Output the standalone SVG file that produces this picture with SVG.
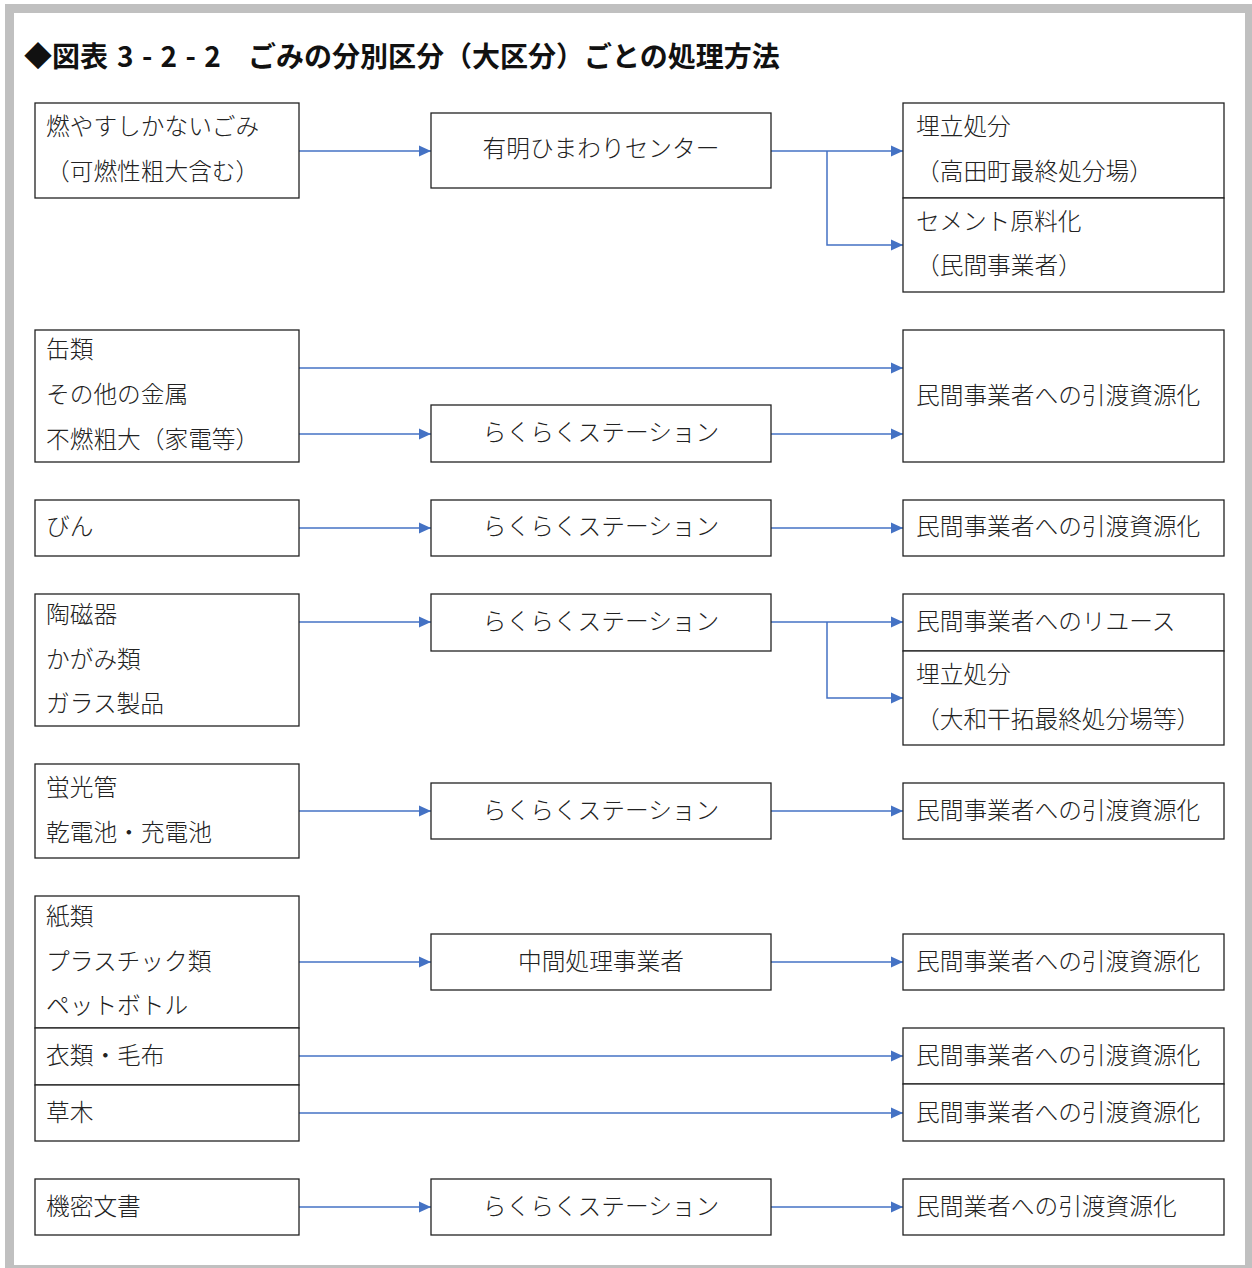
<svg xmlns="http://www.w3.org/2000/svg" width="1252" height="1268" viewBox="0 0 1252 1268">
<style>
text{font-family:"Noto Sans CJK JP","Noto Sans",sans-serif;font-size:23.7px;font-weight:300;fill:#222;}
.title{font-size:28px;font-weight:bold;fill:#111;}
.mid{text-anchor:middle;}
rect.b{fill:#fff;stroke:#222;stroke-width:1.3;}
.c path{fill:none;stroke:#4472C4;stroke-width:1.5;}
</style>
<defs>
<marker id="ah" markerUnits="userSpaceOnUse" markerWidth="13" markerHeight="12" refX="12" refY="6" orient="auto">
<path d="M0,0.5 L12,6 L0,11.5 z" fill="#4472C4"/>
</marker>
</defs>
<rect x="5" y="4" width="1247" height="1264" fill="#C0C0C0"/>
<rect x="14" y="13" width="1231" height="1252" fill="#fff"/>
<text class="title" y="67"><tspan x="24">◆図表</tspan><tspan x="117" word-spacing="2">3 - 2 - 2</tspan><tspan x="248">ごみの分別区分（大区分）ごとの処理方法</tspan></text>

<g class="c">
<path d="M299,151 H431" marker-end="url(#ah)"/>
<path d="M771,151 H903" marker-end="url(#ah)"/>
<path d="M827,151 V245 H903" marker-end="url(#ah)"/>
<path d="M299,368 H903" marker-end="url(#ah)"/>
<path d="M299,434 H431" marker-end="url(#ah)"/>
<path d="M771,434 H903" marker-end="url(#ah)"/>
<path d="M299,528 H431" marker-end="url(#ah)"/>
<path d="M771,528 H903" marker-end="url(#ah)"/>
<path d="M299,622 H431" marker-end="url(#ah)"/>
<path d="M771,622 H903" marker-end="url(#ah)"/>
<path d="M827,622 V698 H903" marker-end="url(#ah)"/>
<path d="M299,811 H431" marker-end="url(#ah)"/>
<path d="M771,811 H903" marker-end="url(#ah)"/>
<path d="M299,962 H431" marker-end="url(#ah)"/>
<path d="M771,962 H903" marker-end="url(#ah)"/>
<path d="M299,1056 H903" marker-end="url(#ah)"/>
<path d="M299,1113 H903" marker-end="url(#ah)"/>
<path d="M299,1207 H431" marker-end="url(#ah)"/>
<path d="M771,1207 H903" marker-end="url(#ah)"/>
</g>

<g id="n-moyasanai"><rect class="b" x="35" y="103" width="264" height="95"/>
<text x="46" y="135">燃やすしかないごみ</text><text x="46" y="180">（可燃性粗大含む）</text></g>
<g id="n-ariake"><rect class="b" x="431" y="113" width="340" height="75"/>
<text class="mid" x="601" y="157">有明ひまわりセンター</text></g>
<g id="n-umetate1"><rect class="b" x="903" y="103" width="321" height="95"/>
<text x="916" y="135">埋立処分</text><text x="916" y="180">（高田町最終処分場）</text></g>
<g id="n-cement"><rect class="b" x="903" y="198" width="321" height="94"/>
<text x="916" y="230">セメント原料化</text><text x="916" y="274">（民間事業者）</text></g>

<g id="n-kan"><rect class="b" x="35" y="330" width="264" height="132"/>
<text x="46" y="358">缶類</text><text x="46" y="403">その他の金属</text><text x="46" y="448">不燃粗大（家電等）</text></g>
<g id="n-raku1"><rect class="b" x="431" y="405" width="340" height="57"/>
<text class="mid" x="601" y="441">らくらくステーション</text></g>
<g id="n-r2"><rect class="b" x="903" y="330" width="321" height="132"/>
<text x="916" y="404">民間事業者への引渡資源化</text></g>

<g id="n-bin"><rect class="b" x="35" y="500" width="264" height="56"/>
<text x="46" y="535">びん</text></g>
<g id="n-raku2"><rect class="b" x="431" y="500" width="340" height="56"/>
<text class="mid" x="601" y="535">らくらくステーション</text></g>
<g id="n-r3"><rect class="b" x="903" y="500" width="321" height="56"/>
<text x="916" y="535">民間事業者への引渡資源化</text></g>

<g id="n-tojiki"><rect class="b" x="35" y="594" width="264" height="132"/>
<text x="46" y="623">陶磁器</text><text x="46" y="668">かがみ類</text><text x="46" y="712">ガラス製品</text></g>
<g id="n-raku3"><rect class="b" x="431" y="594" width="340" height="57"/>
<text class="mid" x="601" y="630">らくらくステーション</text></g>
<g id="n-reuse"><rect class="b" x="903" y="594" width="321" height="57"/>
<text x="916" y="630">民間事業者へのリユース</text></g>
<g id="n-umetate2"><rect class="b" x="903" y="651" width="321" height="94"/>
<text x="916" y="683">埋立処分</text><text x="916" y="728">（大和干拓最終処分場等）</text></g>

<g id="n-keiko"><rect class="b" x="35" y="764" width="264" height="94"/>
<text x="46" y="796">蛍光管</text><text x="46" y="841">乾電池・充電池</text></g>
<g id="n-raku4"><rect class="b" x="431" y="783" width="340" height="56"/>
<text class="mid" x="601" y="819">らくらくステーション</text></g>
<g id="n-r5"><rect class="b" x="903" y="783" width="321" height="56"/>
<text x="916" y="819">民間事業者への引渡資源化</text></g>

<g id="n-kami"><rect class="b" x="35" y="896" width="264" height="132"/>
<text x="46" y="925">紙類</text><text x="46" y="970">プラスチック類</text><text x="46" y="1014">ペットボトル</text></g>
<g id="n-irui"><rect class="b" x="35" y="1028" width="264" height="57"/>
<text x="46" y="1064">衣類・毛布</text></g>
<g id="n-kusaki"><rect class="b" x="35" y="1085" width="264" height="56"/>
<text x="46" y="1121">草木</text></g>
<g id="n-chukan"><rect class="b" x="431" y="934" width="340" height="56"/>
<text class="mid" x="601" y="970">中間処理事業者</text></g>
<g id="n-r6a"><rect class="b" x="903" y="934" width="321" height="56"/>
<text x="916" y="970">民間事業者への引渡資源化</text></g>
<g id="n-r6b"><rect class="b" x="903" y="1028" width="321" height="56"/>
<text x="916" y="1064">民間事業者への引渡資源化</text></g>
<g id="n-r6c"><rect class="b" x="903" y="1084" width="321" height="57"/>
<text x="916" y="1121">民間事業者への引渡資源化</text></g>

<g id="n-kimitsu"><rect class="b" x="35" y="1179" width="264" height="56"/>
<text x="46" y="1215">機密文書</text></g>
<g id="n-raku5"><rect class="b" x="431" y="1179" width="340" height="56"/>
<text class="mid" x="601" y="1215">らくらくステーション</text></g>
<g id="n-r7"><rect class="b" x="903" y="1179" width="321" height="56"/>
<text x="916" y="1215">民間業者への引渡資源化</text></g>
</svg>
